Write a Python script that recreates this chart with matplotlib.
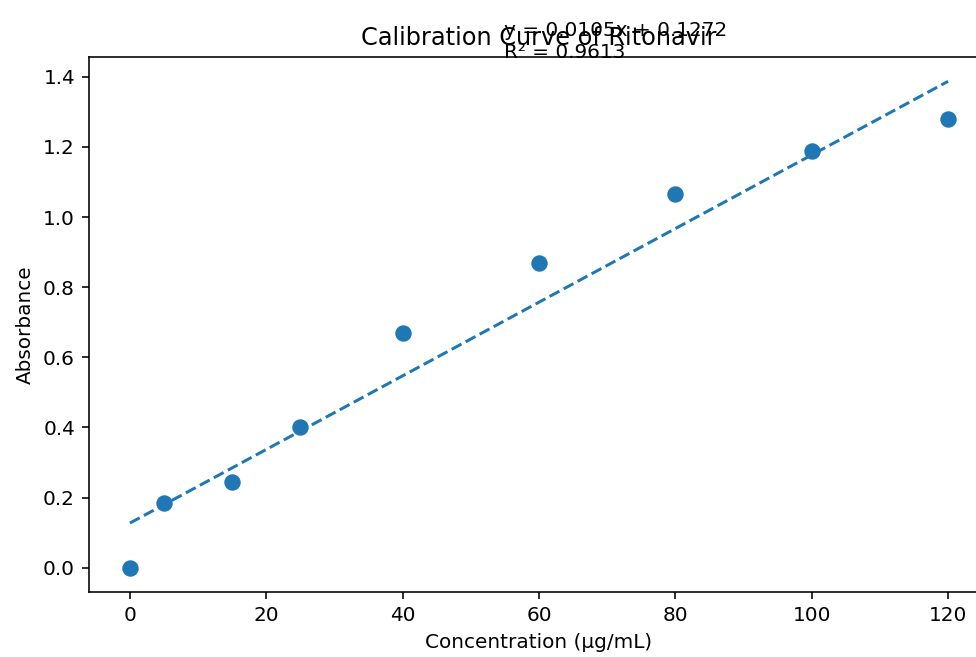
import numpy as np
import matplotlib
matplotlib.use("Agg")
import matplotlib.pyplot as plt

# calibration standards (µg/mL) and measured absorbance
conc = [0, 5, 15, 25, 40, 60, 80, 100, 120]
absorbance = [0.0, 0.185, 0.245, 0.402, 0.670, 0.870, 1.066, 1.189, 1.280]

# reported linear fit
slope = 0.0105
intercept = 0.1272
r2 = 0.9613

DPI = 144
fig = plt.figure(figsize=(976 / DPI, 657 / DPI), dpi=DPI)
ax = fig.add_axes([89 / 976, 65 / 657, 900 / 976, 535 / 657])

ax.scatter(conc, absorbance, s=52, color="#1f77b4", zorder=3)
xs = np.array([min(conc), max(conc)])
ax.plot(xs, slope * xs + intercept, "--", color="#1f77b4")

ax.set_title("Calibration Curve of Ritonavir")
ax.set_xlabel("Concentration (µg/mL)")
ax.set_ylabel("Absorbance")
ax.set_yticks(np.arange(0, 1.41, 0.2))

ax.text(0.461, 0.99, f"y = {slope:.4f}x + {intercept:.4f}\nR² = {r2:.4f}",
        transform=ax.transAxes, ha="left", va="bottom")

fig.savefig("out.png", dpi=DPI)
